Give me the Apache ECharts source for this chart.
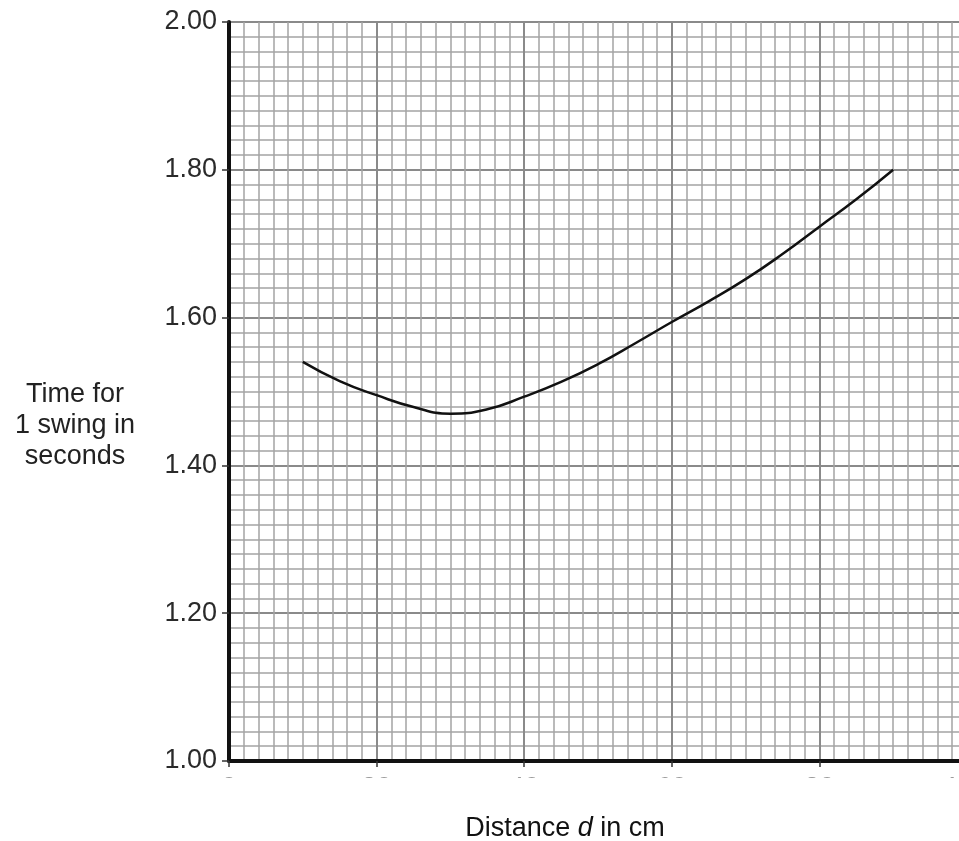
<!DOCTYPE html>
<html>
<head>
<meta charset="utf-8">
<script src="https://cdn.jsdelivr.net/npm/echarts@6/dist/echarts.min.js"></script>
<style>
html,body{margin:0;padding:0;background:#fff;}
#chart{width:959px;height:841px;}
</style>
</head>
<body>
<div id="chart"></div>
<script>
var distance = [10, 15, 20, 25, 30, 35, 40, 45, 50, 55, 60, 65, 70, 75, 80, 85, 90];
var swingTime = [1.540, 1.514, 1.495, 1.479, 1.470, 1.476, 1.493, 1.513, 1.537, 1.565, 1.594, 1.622, 1.652, 1.686, 1.723, 1.760, 1.800];
var xTicks = [0, 20, 40, 60, 80, 100];
var yTicks = [1.00, 1.20, 1.40, 1.60, 1.80, 2.00];
var yTitle = ['Time for', '1 swing in', 'seconds'];

var points = distance.map(function (d, i) { return [d, swingTime[i]]; });
var font = '"Liberation Sans", Arial, sans-serif';

var chart = echarts.init(document.getElementById('chart'), null, {renderer: 'canvas'});
chart.setOption({
  animation: false,
  backgroundColor: '#fff',
  grid: {left: 229, top: 22, width: 738, height: 739, containLabel: false, outerBoundsMode: 'none'},
  xAxis: {
    type: 'value',
    min: xTicks[0], max: xTicks[xTicks.length - 1], interval: 20,
    axisLine: {show: true, onZero: false, lineStyle: {color: '#111', width: 4}},
    axisTick: {show: true, length: 6, lineStyle: {color: '#333', width: 1.5}},
    axisLabel: {show: true, margin: 14, fontSize: 27, fontFamily: font, color: '#999', hideOverlap: false},
    splitLine: {show: true, lineStyle: {color: '#8a8a8a', width: 2}},
    minorTick: {show: false, splitNumber: 10},
    minorSplitLine: {show: true, lineStyle: {color: '#a4a4a4', width: 1.5}},
    name: '{a|Distance }{b|d}{a| in cm}',
    nameLocation: 'middle',
    nameGap: 54,
    nameTextStyle: {
      padding: [0, 66, 0, 0],
      rich: {
        a: {fontSize: 27, fontFamily: font, color: '#111'},
        b: {fontSize: 27, fontFamily: font, color: '#111', fontStyle: 'italic'}
      }
    }
  },
  yAxis: {
    type: 'value',
    min: yTicks[0], max: yTicks[yTicks.length - 1], interval: 0.2,
    axisLine: {show: true, onZero: false, lineStyle: {color: '#111', width: 4}},
    axisTick: {show: true, length: 7, lineStyle: {color: '#333', width: 1.5}},
    axisLabel: {
      show: true, margin: 12, fontSize: 27, fontFamily: font, color: '#2a2a2a',
      formatter: function (v) { return v.toFixed(2); }
    },
    splitLine: {show: true, lineStyle: {color: '#8a8a8a', width: 2}},
    minorTick: {show: false, splitNumber: 10},
    minorSplitLine: {show: true, lineStyle: {color: '#a4a4a4', width: 1.5}}
  },
  graphic: [
    {
      type: 'rect', z: 100,
      shape: {x: 150, y: 778, width: 809, height: 26},
      style: {fill: '#fff'}
    },
    {
      type: 'text', z: 100,
      style: {
        x: 75, y: 426,
        text: yTitle.join('\n'),
        fontSize: 27, fontFamily: font, fill: '#222',
        lineHeight: 31,
        textAlign: 'center', textVerticalAlign: 'middle'
      }
    }
  ],
  series: [{
    type: 'line',
    data: points,
    smooth: true,
    showSymbol: false,
    symbol: 'none',
    lineStyle: {color: '#111', width: 2.5},
    z: 10
  }]
});
</script>
</body>
</html>
